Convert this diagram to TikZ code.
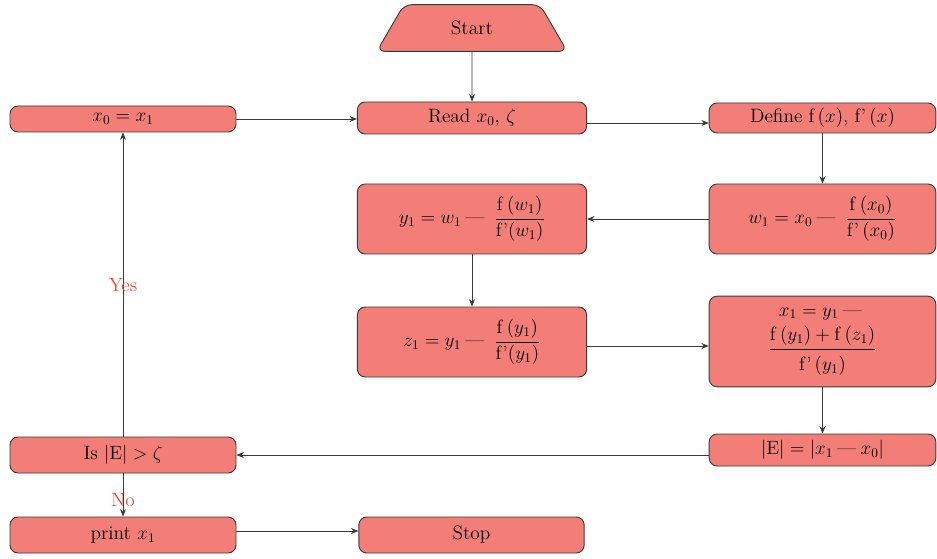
\documentclass[tikz,border=0pt]{standalone}
\usepackage{amsmath}
\usetikzlibrary{shapes.geometric,arrows.meta}
\definecolor{boxfill}{HTML}{F27E77}
\definecolor{edgecol}{HTML}{3A3A3A}
\definecolor{lblred}{HTML}{EE4A30}
\newcommand{\mdash}{\mathbin{\text{---}}}
\newcommand{\fp}{\mathrm{f}\text{'}}
\begin{document}
\begin{tikzpicture}[x=0.75pt,y=-0.75pt,
  txt/.style={font=\fontsize{14.5}{17}\selectfont},
  box/.style={txt, draw=edgecol, fill=boxfill, rounded corners=6pt, line width=0.7pt,
    minimum width=172pt, minimum height=24pt, inner sep=0pt, align=center},
  arr/.style={draw=edgecol, line width=0.6pt, -{Stealth[length=5.5pt,width=4.5pt]}},
  lbl/.style={txt, text=lblred, inner sep=0pt}]
\useasboundingbox (0,0) rectangle (937,559);

% terminal
\node[trapezium, trapezium angle=59, trapezium stretches=true, draw=edgecol,
  fill=boxfill, rounded corners=6pt, line width=0.7pt, minimum width=143pt,
  minimum height=35pt, inner sep=0pt, txt]
  (start) at (472,28) {Start};

% process boxes
\node[box] (read)   at (472,118) {Read $x_0$, $\zeta$};
\node[box, minimum width=170pt, minimum height=22.5pt] (define) at (822.5,118) {Define f\,($x$), f'\,($x$)};
\node[box, minimum width=169.5pt, minimum height=19.5pt] (x0) at (123,119) {$x_0 = x_1$};
\node[box, minimum width=170pt, minimum height=52.5pt] (w1) at (822.5,219)
  {$w_1 = x_0 \mdash\; \dfrac{\mathrm{f}\,(x_0)}{\fp\,(x_0)}$};
\node[box, minimum height=52.5pt] (y1) at (472,219)
  {$y_1 = w_1 \mdash\; \dfrac{\mathrm{f}\,(w_1)}{\fp(w_1)}$};
\node[box, minimum height=52.5pt] (z1) at (472,342)
  {$z_1 = y_1 \mdash\; \dfrac{\mathrm{f}\,(y_1)}{\fp(y_1)}$};
\node[box, minimum width=170pt, minimum height=68pt] (x1) at (822.5,341.5)
  {$x_1 = y_1 \mdash{}$\\[4pt]
   $\dfrac{\mathrm{f}\,(y_1) + \mathrm{f}\,(z_1)}{\rule{0pt}{14pt}\fp\,(y_1)}$};
\node[box, minimum width=170pt] (err) at (822.5,450) {$|\mathrm{E}| = |x_1 \mdash x_0|$};
\node[box, minimum width=169.5pt, minimum height=27pt] (test) at (123,455) {Is $|\mathrm{E}| > \zeta$};
\node[box, minimum width=169.5pt, minimum height=27pt] (print) at (123,535) {print $x_1$};
\node[box, minimum width=169pt, minimum height=27pt] (stop) at (471.5,535) {Stop};

% connectors
\draw[arr] (start) -- (read);
\draw[arr] (x0.east) -- (x0.east -| read.west);
\draw[arr] ([yshift=-3.75pt]read.east) -- ([yshift=-3.75pt]define.west);
\draw[arr] (define) -- (w1);
\draw[arr] (w1) -- (y1);
\draw[arr] (y1) -- (z1);
\draw[arr] ([yshift=-3pt]z1.east) -- ([yshift=-3pt]z1.east -| x1.west);
\draw[arr] (x1) -- (err);
\draw[arr] (err.west |- test.east) -- (test.east);
\draw[arr] (test.north -| x0.south) -- node[lbl, pos=0.5] (yes) {Yes} (x0.south);
\draw[arr] (test.south) -- node[lbl, pos=0.61] (no) {No} (print.north);
\draw[arr] ([yshift=3pt]print.east) -- ([yshift=3pt]stop.west);
\end{tikzpicture}
\end{document}
